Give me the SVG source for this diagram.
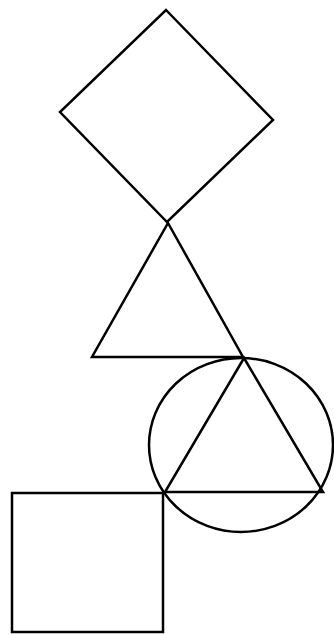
<svg xmlns="http://www.w3.org/2000/svg" width="334" height="634" viewBox="0 0 334 634">
<style>.s{fill:none;stroke:#000;stroke-width:2.5;stroke-linejoin:miter}</style>
<rect width="334" height="634" fill="#fff"/>
<g id="diamond"><polygon class="s" points="166,10 273,120 167,222 60,112"/></g>
<g id="triangle1"><polygon class="s" points="168,223 243,357 92,357"/></g>
<g id="circle"><ellipse class="s" cx="241" cy="445" rx="92" ry="87"/></g>
<g id="triangle2"><polygon class="s" points="244,358 323,492 165,492"/></g>
<g id="square"><rect class="s" x="12" y="493" width="151" height="139"/></g>
<g id="connectors"></g>
</svg>
